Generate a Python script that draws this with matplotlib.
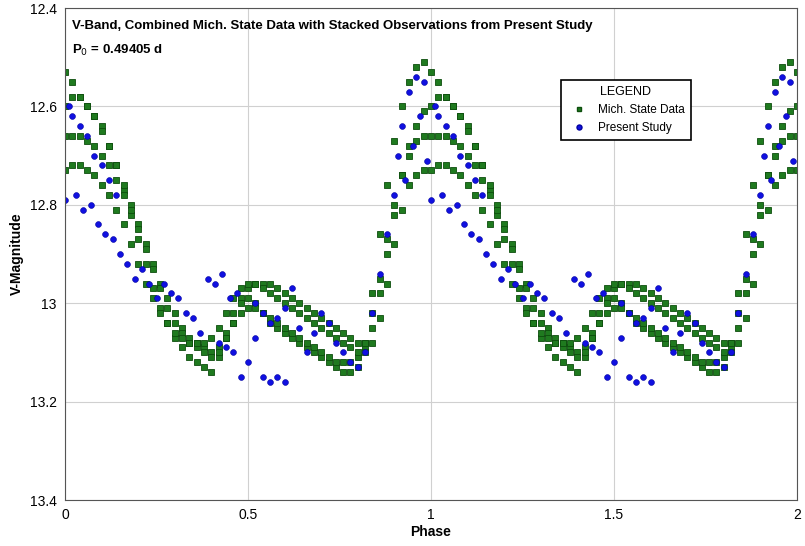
import numpy as np
import matplotlib
matplotlib.use("Agg")
import matplotlib.pyplot as plt
plt.rcParams['font.family'] = ['Liberation Sans', 'DejaVu Sans']

phase = [round(0.02*i, 2) for i in range(50)]
band1 = [12.53,12.55,12.58,12.60,12.62,12.64,12.68,12.72,12.77,12.82,12.87,12.92,12.97,13.01,13.04,13.07,13.09,13.11,13.12,13.13,
         13.14,13.11,13.06,13.02,12.99,12.99,13.00,13.02,13.04,13.05,13.06,13.07,13.08,13.09,13.10,13.11,13.12,13.13,13.14,13.14,
         13.13,13.08,12.98,12.86,12.76,12.67,12.60,12.55,12.52,12.51]
band2 = [12.60,12.58,12.58,12.60,12.62,12.65,12.68,12.72,12.76,12.80,12.84,12.88,12.92,12.96,12.99,13.02,13.05,13.07,13.08,13.09,
         13.10,13.09,13.07,13.04,13.00,12.97,12.96,12.96,12.96,12.97,12.98,12.99,13.00,13.01,13.02,13.03,13.04,13.05,13.06,13.07,
         13.08,13.09,13.05,12.98,12.90,12.82,12.74,12.68,12.64,12.61]
band3 = [12.66,12.66,12.66,12.67,12.68,12.70,12.72,12.75,12.78,12.81,12.85,12.89,12.93,12.97,13.01,13.04,13.06,13.08,13.09,13.10,
         13.11,13.10,13.07,13.04,13.02,13.01,13.01,13.02,13.03,13.04,13.05,13.06,13.07,13.08,13.09,13.10,13.11,13.12,13.12,13.12,
         13.11,13.08,13.02,12.95,12.87,12.80,12.74,12.70,12.67,12.66]
band4 = [12.73,12.72,12.72,12.73,12.74,12.76,12.78,12.81,12.84,12.88,12.92,12.96,12.99,13.02,13.04,13.06,13.07,13.08,13.08,13.08,
         13.07,13.05,13.02,12.99,12.97,12.96,12.96,12.97,12.98,12.99,13.00,13.01,13.02,13.03,13.04,13.05,13.06,13.07,13.08,13.09,
         13.10,13.10,13.08,13.03,12.96,12.88,12.81,12.76,12.74,12.73]

blue_phase = [0.00,0.01,0.02,0.03,0.04,0.05,0.06,0.07,0.08,0.09,0.10,0.11,0.12,0.13,0.14,0.15,0.17,0.19,0.21,0.23,
              0.25,0.27,0.29,0.31,0.33,0.35,0.37,0.39,0.41,0.42,0.43,0.44,0.45,0.46,0.47,0.48,0.50,0.52,0.54,0.56,
              0.58,0.60,0.52,0.54,0.56,0.58,0.60,0.62,0.64,0.66,0.68,0.70,0.72,0.74,0.76,0.78,0.80,0.82,0.84,0.86,
              0.88,0.90,0.91,0.92,0.93,0.94,0.95,0.96,0.97,0.98,0.99]
blue_mag = [12.79,12.60,12.62,12.78,12.64,12.81,12.66,12.80,12.70,12.84,12.72,12.86,12.75,12.87,12.78,12.90,12.92,12.95,12.93,12.96,
            12.99,12.96,12.98,12.99,13.02,13.03,13.06,12.95,12.96,13.08,12.94,13.09,12.99,13.10,12.98,13.15,13.12,13.07,13.15,13.16,
            13.15,13.16,13.00,13.02,13.04,13.03,13.01,12.97,13.05,13.10,13.06,13.02,13.04,13.08,13.10,13.12,13.13,13.10,13.02,12.94,
            12.86,12.78,12.70,12.64,12.75,12.57,12.68,12.54,12.62,12.55,12.71]

fig = plt.figure(figsize=(8.05, 5.46), dpi=100)
ax = fig.add_axes([65/805, 46/546, 732/805, 492/546])

gkw = dict(ls='none', marker='s', ms=4.6, mfc='#1f7a1f', mec='#0d4d0d', mew=0.6)
ph = np.array(phase)
for b in (band1, band2, band3, band4):
    for shift in (0, 1):
        ax.plot(ph + shift, b, **gkw)
    ax.plot([2.0], [b[0]], **gkw)
bkw = dict(ls='none', marker='o', ms=4.2, mfc='#1010e0', mec='#0000a0', mew=0.4)
bp = np.array(blue_phase)
for shift in (0, 1):
    ax.plot(bp + shift, blue_mag, **bkw)

ax.set_xlim(0, 2)
ax.set_ylim(13.4, 12.4)
ax.set_xticks([0, 0.5, 1, 1.5, 2])
ax.set_xticklabels(['0', '0.5', '1', '1.5', '2'])
ax.set_yticks([12.4, 12.6, 12.8, 13.0, 13.2, 13.4])
ax.set_yticklabels(['12.4', '12.6', '12.8', '13', '13.2', '13.4'])
ax.grid(True, color='#d0d0d0', lw=0.8)
ax.set_axisbelow(True)
ax.tick_params(length=0, labelsize=10, pad=6)
for s in ax.spines.values():
    s.set_color('#555555')
ax.set_xlabel('Phase', fontsize=10, fontweight='bold', labelpad=2)
ax.set_ylabel('V-Magnitude', fontsize=10, fontweight='bold')
ax.text(0.01, 0.975, 'V-Band, Combined Mich. State Data with Stacked Observations from Present Study',
        transform=ax.transAxes, fontsize=9.5, fontweight='bold', va='top')
ax.text(0.01, 0.93, r'P$_0$ = 0.49405 d', transform=ax.transAxes, fontsize=9.5, fontweight='bold', va='top')

h1, = ax.plot([], [], ls='none', marker='s', ms=3.3, mfc='#1f7a1f', mec='#0d4d0d')
h2, = ax.plot([], [], ls='none', marker='o', ms=3.6, mfc='#1010e0', mec='#0000a0')
leg = ax.legend([h1, h2], ['Mich. State Data', 'Present Study'], title='LEGEND', fontsize=8.5,
                title_fontsize=9, loc='upper left', bbox_to_anchor=(0.67, 0.865), fancybox=False,
                framealpha=1, edgecolor='black', handletextpad=0.6, borderpad=0.5)
leg.get_frame().set_linewidth(1.2)
fig.savefig('out.png', dpi=100)
